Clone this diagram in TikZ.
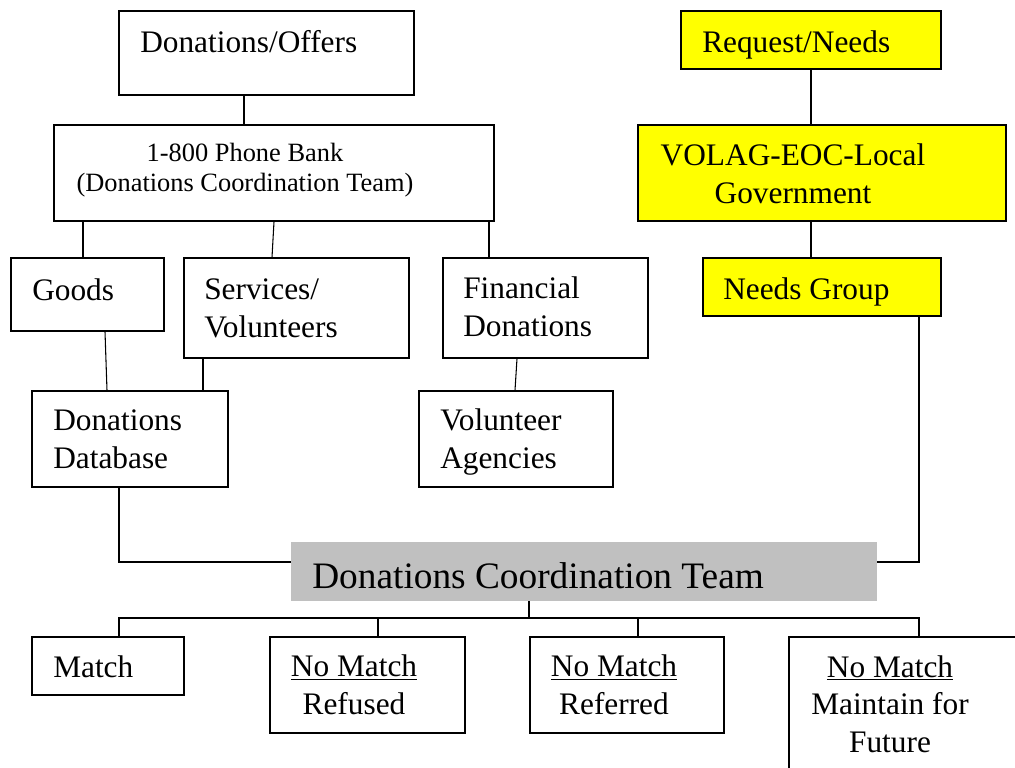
\documentclass[tikz,border=0pt]{standalone}
\usepackage{fontspec}
\setmainfont{Liberation Serif}
\usetikzlibrary{calc,fit}
\definecolor{needs}{RGB}{255,255,0}
\definecolor{teamgray}{RGB}{192,192,192}

\begin{document}
\begin{tikzpicture}[x=0.75pt,y=-0.75pt,
  box/.style={draw,line width=1pt,inner sep=0pt},
  needbox/.style={box,fill=needs},
  teambox/.style={fill=teamgray,inner sep=0pt},
  txt/.style={inner sep=0pt,font=\fontsize{23.5}{28}\selectfont},
  phonetxt/.style={txt,font=\fontsize{19.8}{22.5}\selectfont},
  teamtxt/.style={txt,font=\fontsize{28}{33}\selectfont},
  link/.style={line width=0.8pt}]
\useasboundingbox (0,0) rectangle (1015,768);
\clip (0,0) rectangle (1015,768);

% offers side
\node[box,fit={(119,11) (414,95)}] (offers) {};
\node[box,fit={(54,125) (494,221)}] (phone) {};
\node[box,fit={(11,258) (164,331)}] (goods) {};
\node[box,fit={(184,258) (409,358)}] (services) {};
\node[box,fit={(443,258) (648,358)}] (financial) {};
\node[box,fit={(32,391) (228,487)}] (database) {};
\node[box,fit={(419,391) (613,487)}] (agencies) {};

% needs side
\node[needbox,fit={(681,11) (941,69)}] (request) {};
\node[needbox,fit={(638,125) (1006,221)}] (volag) {};
\node[needbox,fit={(703,258) (941,316)}] (needsgrp) {};

% coordination team and outcomes
\node[teambox,fit={(291,542) (877,601)}] (team) {};
\node[box,fit={(32,637) (184,695)}] (match) {};
\node[box,fit={(270,637) (465,733)}] (refused) {};
\node[box,fit={(530,637) (724,733)}] (referred) {};
\node[box,fit={(789,637) (1040,800)}] (future) {};

% texts (multi-line ones sit on their last baseline)
\node[txt,anchor=base west] (offers-t) at (140,52) {Donations/Offers};
\node[phonetxt,anchor=base,align=center] (phone-t) at (245,191)
  {1-800 Phone Bank\\(Donations Coordination Team)};
\node[txt,anchor=base west] (goods-t) at (32,300) {Goods};
\node[txt,anchor=base west,align=left] (services-t) at (204,337)
  {Services/\\Volunteers};
\node[txt,anchor=base west,align=left] (financial-t) at (463,336)
  {Financial\\Donations};
\node[txt,anchor=base west,align=left] (database-t) at (53,468)
  {Donations\\Database};
\node[txt,anchor=base west,align=left] (agencies-t) at (440,468)
  {Volunteer\\Agencies};
\node[txt,anchor=base west] (request-t) at (702,52) {Request/Needs};
\node[txt,anchor=base,align=center] (volag-t) at (793,203)
  {VOLAG-EOC-Local\\Government};
\node[txt,anchor=base west] (needsgrp-t) at (723,299) {Needs Group};
\node[teamtxt,anchor=base west] (team-t) at (312,588)
  {Donations Coordination Team};
\node[txt,anchor=base west] (match-t) at (53,677) {Match};
\node[txt,anchor=base,align=center] (refused-t) at (354,714)
  {\underline{No Match}\\Refused};
\node[txt,anchor=base,align=center] (referred-t) at (614,714)
  {\underline{No Match}\\Referred};
\node[txt,anchor=base,align=center] (future-t) at (890,752)
  {\underline{No Match}\\Maintain for\\Future};

% connectors, top half
\draw[link] (offers.south -| 244,0) -- (phone.north -| 244,0);
\draw[link] (phone.south -| 83,0) -- (goods.north -| 83,0);
\draw[link] (phone.south -| 274,0) -- (services.north -| 272,0);
\draw[link] (phone.south -| 489,0) -- (financial.north -| 489,0);
\draw[link] (goods.south -| 105,0) -- (database.north -| 107,0);
\draw[link] (services.south -| 203,0) -- (database.north -| 203,0);
\draw[link] (financial.south -| 517,0) -- (agencies.north -| 515,0);
\draw[link] (request.south -| 811,0) -- (volag.north -| 811,0);
\draw[link] (volag.south -| 811,0) -- (needsgrp.north -| 811,0);

% into the team
\draw[link] (database.south -| 119,0) |- (team.west |- 0,562);
\draw[link] (needsgrp.south -| 919,0) |- (team.east |- 0,562);

% out to the outcomes
\coordinate (bus) at (529,618);
\draw[link] (team.south -| bus) -- (bus);
\draw[link] (match.north -| 119,0) -- (bus -| 119,0) -- (bus -| 919,0)
  -- (future.north -| 919,0);
\draw[link] (refused.north -| 378,0) -- (bus -| 378,0);
\draw[link] (referred.north -| 638,0) -- (bus -| 638,0);
\end{tikzpicture}
\end{document}
